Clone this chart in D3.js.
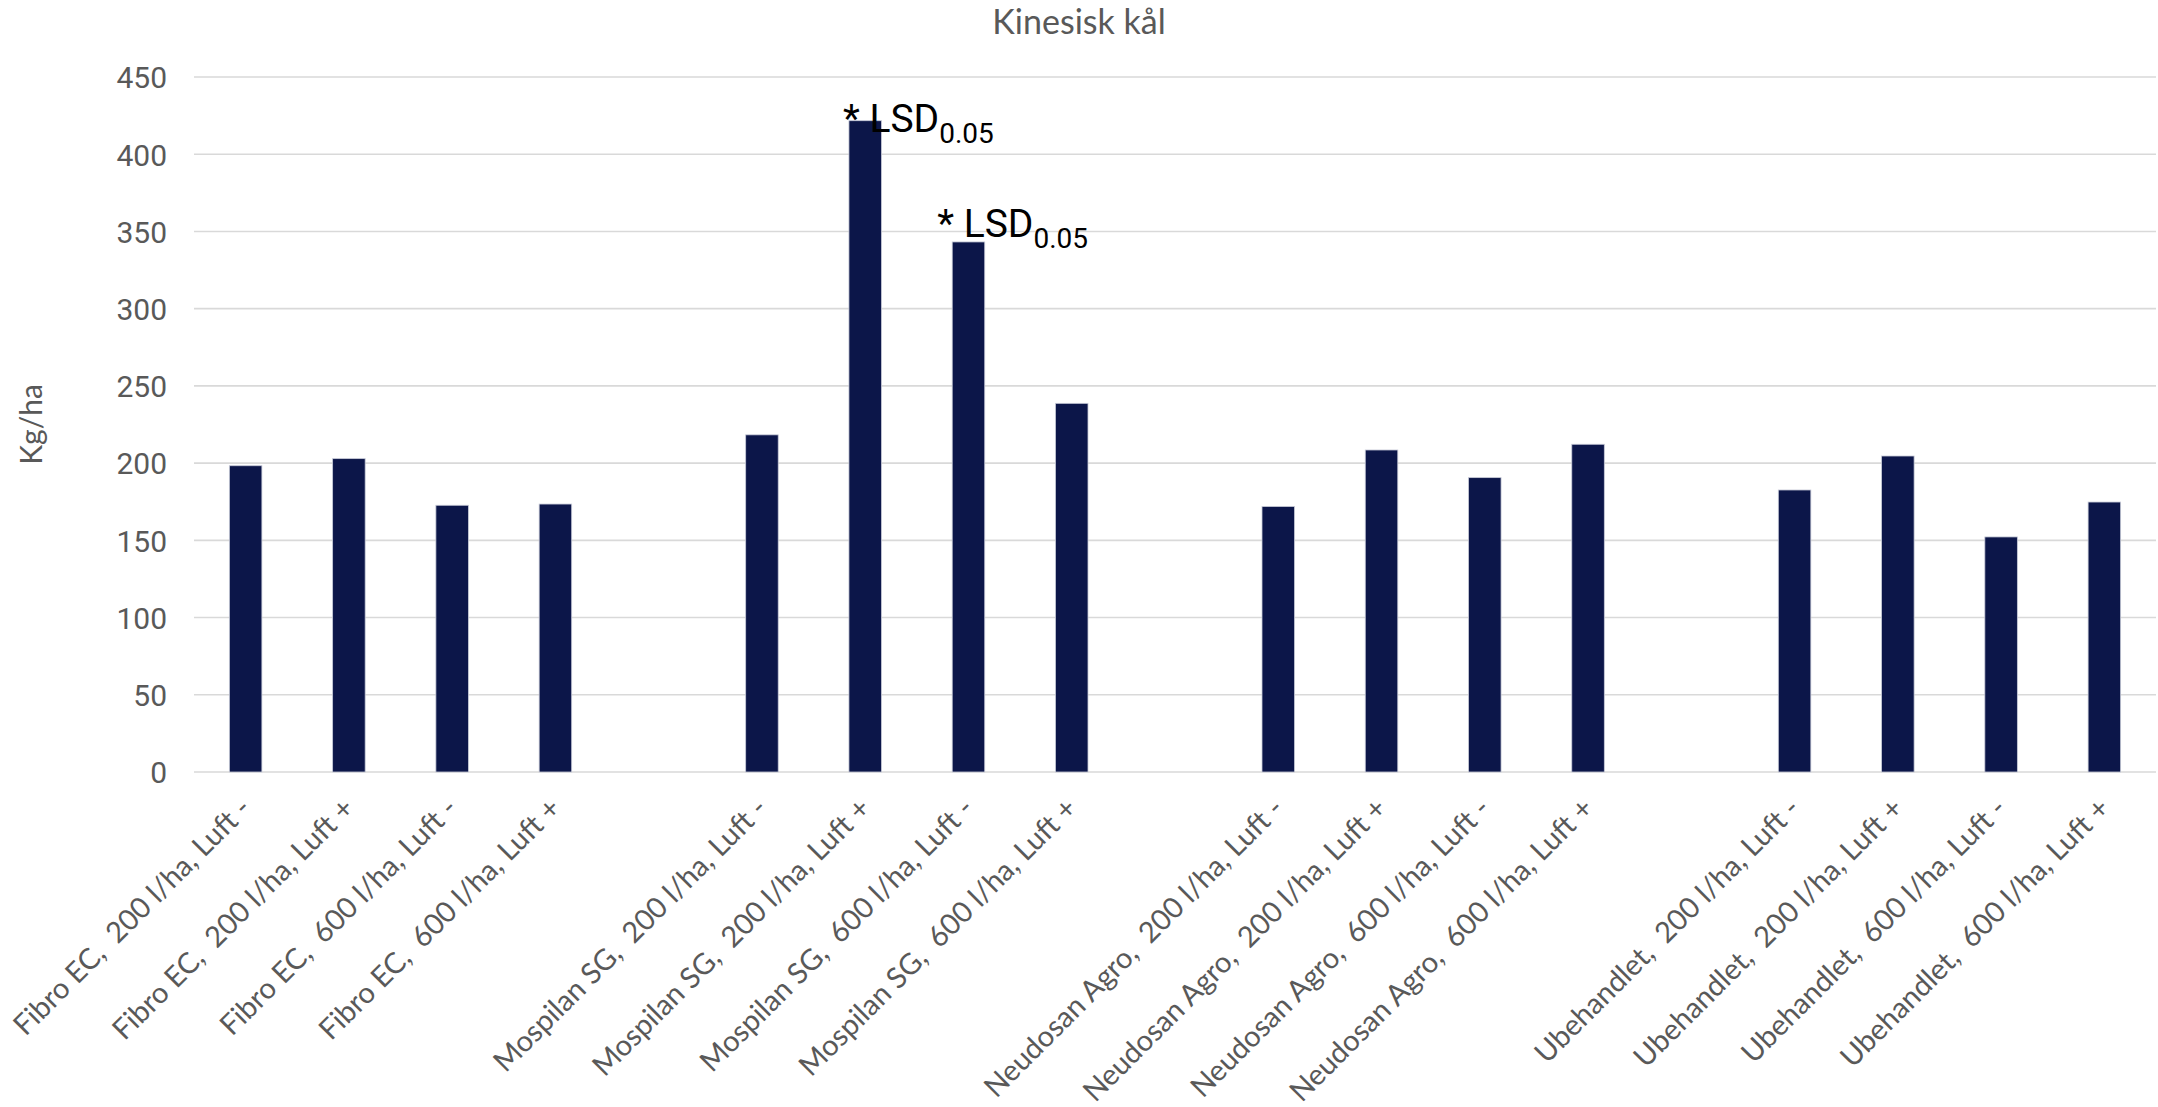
<!DOCTYPE html>
<html>
<head>
<meta charset="utf-8">
<script src="https://cdn.jsdelivr.net/npm/d3@7"></script>
<style>
  html, body { margin: 0; padding: 0; background: #ffffff; }
  svg { display: block; }
  text { white-space: pre; }
</style>
</head>
<body>
<div id="chart"></div>
<script>
// ---- data ----
const title = "Kinesisk kål";
const yAxisTitle = "Kg/ha";
const categories = [
  "Fibro EC,  200 l/ha, Luft -",
  "Fibro EC,  200 l/ha, Luft +",
  "Fibro EC,  600 l/ha, Luft -",
  "Fibro EC,  600 l/ha, Luft +",
  "",
  "Mospilan SG,  200 l/ha, Luft -",
  "Mospilan SG,  200 l/ha, Luft +",
  "Mospilan SG,  600 l/ha, Luft -",
  "Mospilan SG,  600 l/ha, Luft +",
  "",
  "Neudosan Agro,  200 l/ha, Luft -",
  "Neudosan Agro,  200 l/ha, Luft +",
  "Neudosan Agro,  600 l/ha, Luft -",
  "Neudosan Agro,  600 l/ha, Luft +",
  "",
  "Ubehandlet,  200 l/ha, Luft -",
  "Ubehandlet,  200 l/ha, Luft +",
  "Ubehandlet,  600 l/ha, Luft -",
  "Ubehandlet,  600 l/ha, Luft +"
];
const values = [
  198.3, 202.9, 172.7, 173.5,
  null,
  218.3, 421.7, 343.2, 238.7,
  null,
  171.9, 208.5, 190.6, 212.2,
  null,
  182.6, 204.6, 152.2, 174.8
];
const yTicks = [0, 50, 100, 150, 200, 250, 300, 350, 400, 450];
const annotationCats = [6, 7];
const annotationMain = "* LSD";
const annotationSub = "0.05";

// ---- layout ----
const W = 2158, H = 1107;
const plot = { left: 194, right: 2156, top: 77, bottom: 772 };
const barColor = "#0c1649";
const gridColor = "#d9d9d9";
const textGray = "#595959";

const svg = d3.select("#chart").append("svg")
  .attr("width", W).attr("height", H);

const x = d3.scaleBand()
  .domain(d3.range(categories.length))
  .range([plot.left, plot.right])
  .paddingInner(0).paddingOuter(0);

const y = d3.scaleLinear()
  .domain([0, 450])
  .range([plot.bottom, plot.top]);

const barW = x.bandwidth() * 0.315;

// gridlines
svg.append("g").selectAll("line")
  .data(yTicks)
  .join("line")
  .attr("x1", plot.left).attr("x2", plot.right)
  .attr("y1", d => y(d)).attr("y2", d => y(d))
  .attr("stroke", gridColor).attr("stroke-width", 1.6);

// y axis labels via d3 axis
const yAxis = d3.axisLeft(y).tickValues(yTicks).tickSize(0).tickPadding(0);
const gy = svg.append("g")
  .attr("transform", `translate(${plot.left - 27},0)`)
  .call(yAxis);
gy.select(".domain").remove();
gy.selectAll("text")
  .attr("font-family", "Roboto, sans-serif")
  .attr("font-size", 30)
  .attr("fill", textGray)
  .attr("dy", "0.36em");

// bars
const barData = values.map((v, i) => ({ i, v })).filter(d => d.v !== null);
svg.append("g").selectAll("rect")
  .data(barData)
  .join("rect")
  .attr("x", d => x(d.i) + x.bandwidth() / 2 - barW / 2)
  .attr("width", barW)
  .attr("y", d => y(d.v))
  .attr("height", d => y(0) - y(d.v))
  .attr("fill", barColor)
  .attr("stroke", "#c8cbd8")
  .attr("stroke-width", 0.8);

// x category labels (rotated)
const xAxis = d3.axisBottom(x).tickSize(0).tickFormat(i => categories[i]);
const gx = svg.append("g")
  .attr("transform", `translate(0,${plot.bottom})`)
  .call(xAxis);
gx.select(".domain").remove();
gx.selectAll("text")
  .attr("font-family", "Lato, sans-serif")
  .attr("font-size", 29)
  .attr("fill", textGray)
  .attr("text-anchor", "end")
  .attr("y", 0).attr("dy", 0)
  .attr("transform", "translate(7,38) rotate(-45)");

// title
svg.append("text")
  .attr("x", W / 2).attr("y", 34)
  .attr("text-anchor", "middle")
  .attr("font-family", "Lato, sans-serif")
  .attr("font-size", 34)
  .attr("fill", textGray)
  .text(title);

// y axis title
svg.append("text")
  .attr("transform", `translate(42,${(plot.top + plot.bottom) / 2}) rotate(-90)`)
  .attr("text-anchor", "middle")
  .attr("font-family", "Lato, sans-serif")
  .attr("font-size", 30)
  .attr("fill", textGray)
  .text(yAxisTitle);

// LSD annotations
const annOffsets = [{ dx: -6, dy: 11 }, { dx: -15, dy: -5 }];
annotationCats.forEach((ci, k) => {
  const bx = x(ci) + x.bandwidth() / 2 - barW / 2;
  const t = svg.append("text")
    .attr("x", bx + annOffsets[k].dx)
    .attr("y", y(values[ci]) + annOffsets[k].dy)
    .attr("font-family", "Roboto, sans-serif")
    .attr("font-size", 39)
    .attr("fill", "#000000");
  t.append("tspan").text(annotationMain);
  t.append("tspan").attr("font-size", 28).attr("dy", 11).text(annotationSub);
});
</script>
</body>
</html>
